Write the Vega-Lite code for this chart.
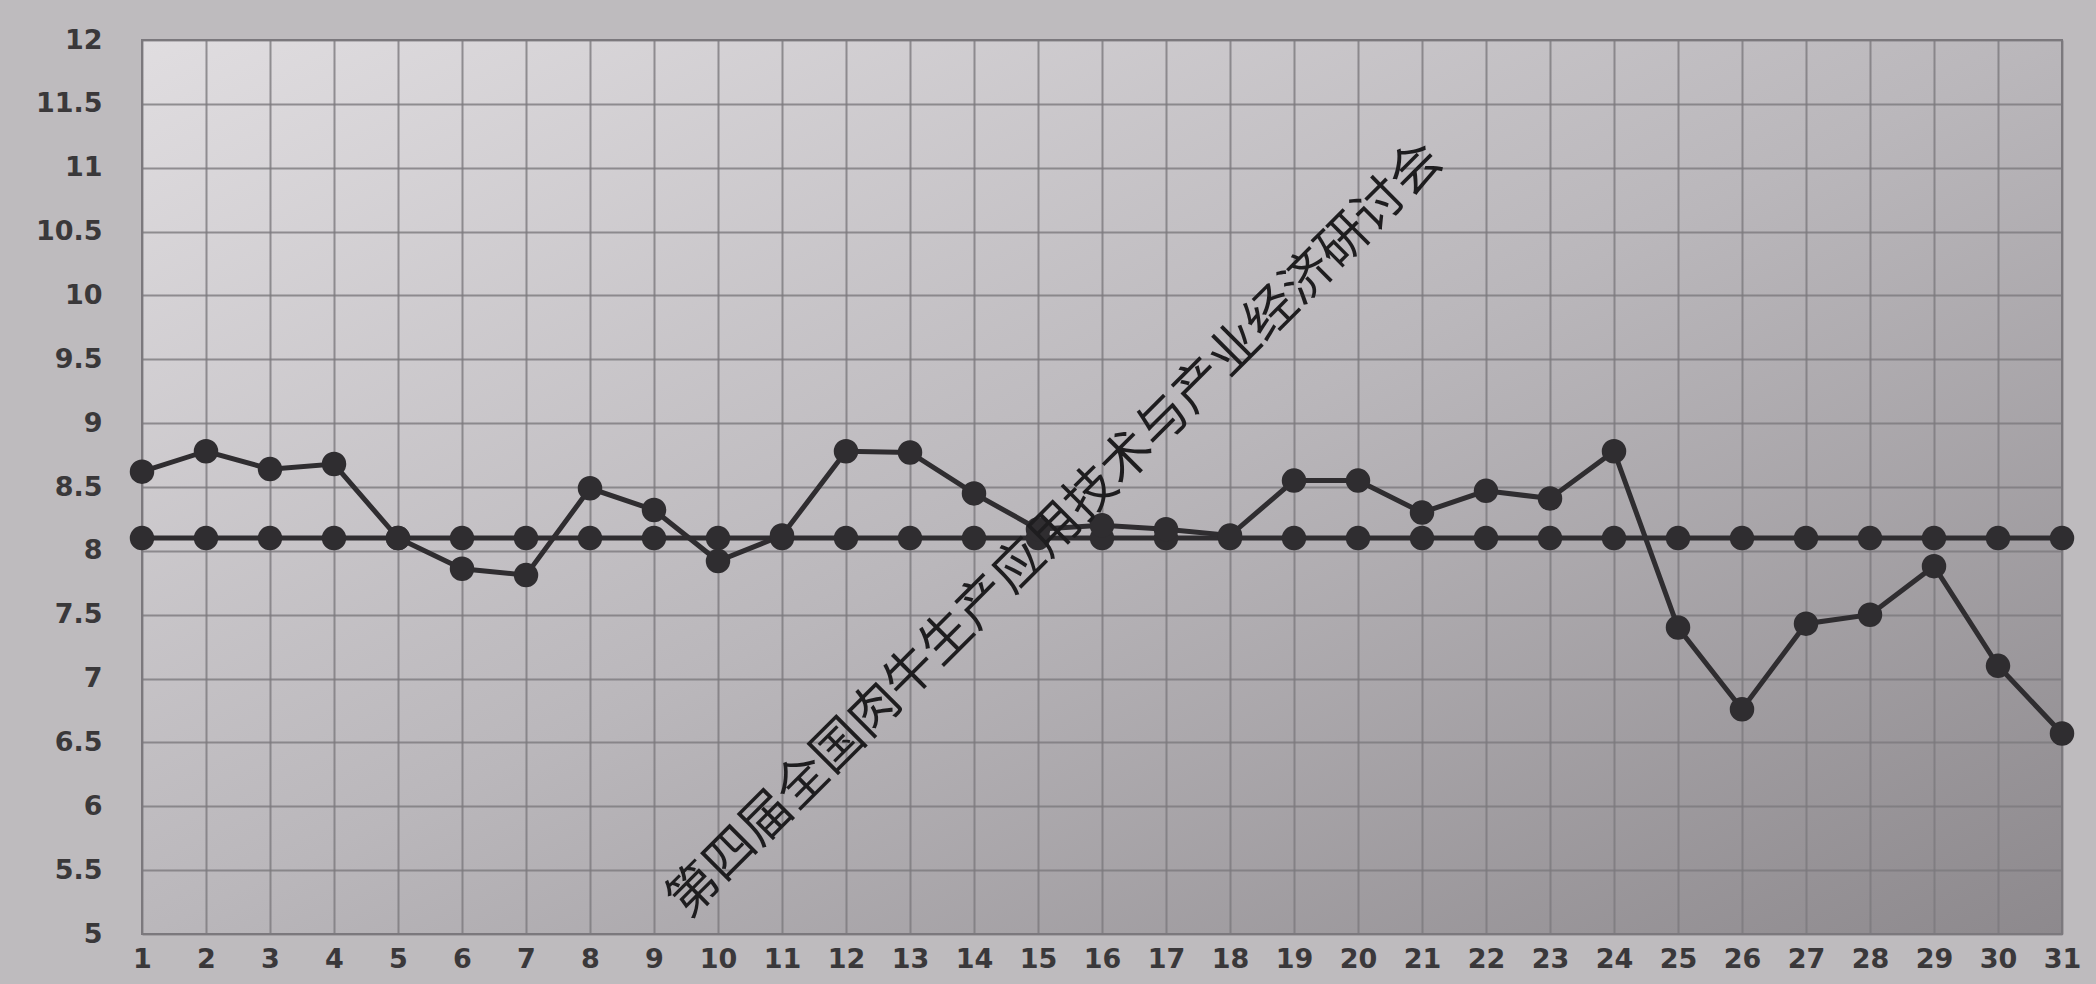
{
  "$schema": "https://vega.github.io/schema/vega-lite/v6.json",
  "width": 1920,
  "height": 894,
  "padding": {"left": 0, "top": 26, "right": 34, "bottom": 0},
  "autosize": {"type": "pad"},
  "background": "#bebbbe",
  "config": {
    "view": {
      "stroke": "#7c797d",
      "strokeWidth": 2,
      "fill": {"gradient": "linear", "x1": 0, "y1": 0, "x2": 1, "y2": 1,
        "stops": [{"offset": 0, "color": "#e0dde0"}, {"offset": 0.5, "color": "#bab7bb"}, {"offset": 1, "color": "#8d898d"}]}
    },
    "axis": {
      "labelFont": "DejaVu Sans, sans-serif",
      "labelFontWeight": "bold",
      "labelFontSize": 27,
      "labelColor": "#3a383a",
      "ticks": false,
      "domain": false,
      "gridColor": "#7c797d",
      "gridWidth": 2,
      "gridOpacity": 0.8,
      "title": null
    }
  },
  "layer": [
    {
      "data": {
        "values": [
          {"day": 1, "value": 8.1, "series": "B"}, {"day": 2, "value": 8.1, "series": "B"}, {"day": 3, "value": 8.1, "series": "B"},
          {"day": 4, "value": 8.1, "series": "B"}, {"day": 5, "value": 8.1, "series": "B"}, {"day": 6, "value": 8.1, "series": "B"},
          {"day": 7, "value": 8.1, "series": "B"}, {"day": 8, "value": 8.1, "series": "B"}, {"day": 9, "value": 8.1, "series": "B"},
          {"day": 10, "value": 8.1, "series": "B"}, {"day": 11, "value": 8.1, "series": "B"}, {"day": 12, "value": 8.1, "series": "B"},
          {"day": 13, "value": 8.1, "series": "B"}, {"day": 14, "value": 8.1, "series": "B"}, {"day": 15, "value": 8.1, "series": "B"},
          {"day": 16, "value": 8.1, "series": "B"}, {"day": 17, "value": 8.1, "series": "B"}, {"day": 18, "value": 8.1, "series": "B"},
          {"day": 19, "value": 8.1, "series": "B"}, {"day": 20, "value": 8.1, "series": "B"}, {"day": 21, "value": 8.1, "series": "B"},
          {"day": 22, "value": 8.1, "series": "B"}, {"day": 23, "value": 8.1, "series": "B"}, {"day": 24, "value": 8.1, "series": "B"},
          {"day": 25, "value": 8.1, "series": "B"}, {"day": 26, "value": 8.1, "series": "B"}, {"day": 27, "value": 8.1, "series": "B"},
          {"day": 28, "value": 8.1, "series": "B"}, {"day": 29, "value": 8.1, "series": "B"}, {"day": 30, "value": 8.1, "series": "B"},
          {"day": 31, "value": 8.1, "series": "B"},
          {"day": 1, "value": 8.62, "series": "A"}, {"day": 2, "value": 8.78, "series": "A"}, {"day": 3, "value": 8.64, "series": "A"},
          {"day": 4, "value": 8.68, "series": "A"}, {"day": 5, "value": 8.1, "series": "A"}, {"day": 6, "value": 7.86, "series": "A"},
          {"day": 7, "value": 7.81, "series": "A"}, {"day": 8, "value": 8.49, "series": "A"}, {"day": 9, "value": 8.32, "series": "A"},
          {"day": 10, "value": 7.92, "series": "A"}, {"day": 11, "value": 8.12, "series": "A"}, {"day": 12, "value": 8.78, "series": "A"},
          {"day": 13, "value": 8.77, "series": "A"}, {"day": 14, "value": 8.45, "series": "A"}, {"day": 15, "value": 8.17, "series": "A"},
          {"day": 16, "value": 8.2, "series": "A"}, {"day": 17, "value": 8.17, "series": "A"}, {"day": 18, "value": 8.12, "series": "A"},
          {"day": 19, "value": 8.55, "series": "A"}, {"day": 20, "value": 8.55, "series": "A"}, {"day": 21, "value": 8.3, "series": "A"},
          {"day": 22, "value": 8.47, "series": "A"}, {"day": 23, "value": 8.41, "series": "A"}, {"day": 24, "value": 8.78, "series": "A"},
          {"day": 25, "value": 7.4, "series": "A"}, {"day": 26, "value": 6.76, "series": "A"}, {"day": 27, "value": 7.43, "series": "A"},
          {"day": 28, "value": 7.5, "series": "A"}, {"day": 29, "value": 7.88, "series": "A"}, {"day": 30, "value": 7.1, "series": "A"},
          {"day": 31, "value": 6.57, "series": "A"}
        ]
      },
      "mark": {
        "type": "line",
        "color": "#2f2d30",
        "strokeWidth": 5,
        "point": {"filled": true, "size": 600, "color": "#2f2d30", "opacity": 1}
      },
      "encoding": {
        "x": {
          "field": "day", "type": "quantitative",
          "scale": {"domain": [1, 31], "nice": false, "zero": false},
          "axis": {
            "values": [1,2,3,4,5,6,7,8,9,10,11,12,13,14,15,16,17,18,19,20,21,22,23,24,25,26,27,28,29,30,31],
            "format": "d", "labelPadding": 12, "minExtent": 64, "maxExtent": 64, "labelFlush": false, "labelOverlap": false
          }
        },
        "y": {
          "field": "value", "type": "quantitative",
          "scale": {"domain": [5, 12], "nice": false, "zero": false},
          "axis": {
            "values": [5, 5.5, 6, 6.5, 7, 7.5, 8, 8.5, 9, 9.5, 10, 10.5, 11, 11.5, 12],
            "format": "~g",
            "labelPadding": 40, "minExtent": 142, "maxExtent": 142, "labelFlush": false, "labelOverlap": false
          }
        },
        "detail": {"field": "series", "type": "nominal"},
        "order": {"field": "day", "type": "quantitative"}
      }
    },
    {
      "data": {"values": [{"x": 15.28, "y": 8.16, "label": "第四届全国肉牛生产应用技术与产业经济研讨会"}]},
      "mark": {
        "type": "text",
        "angle": -45,
        "font": "Noto Sans CJK SC",
        "fontSize": 51,
        "color": "#1e1d1f",
        "align": "center",
        "baseline": "middle"
      },
      "encoding": {
        "x": {"field": "x", "type": "quantitative"},
        "y": {"field": "y", "type": "quantitative"},
        "text": {"field": "label"}
      }
    }
  ]
}
